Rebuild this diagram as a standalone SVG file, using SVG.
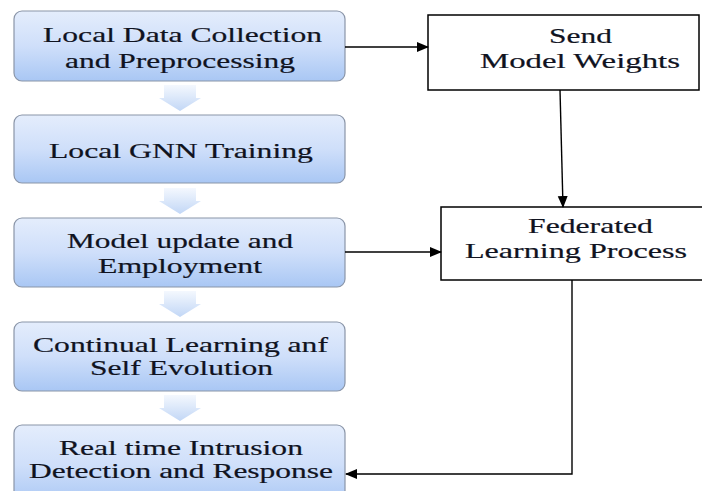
<svg xmlns="http://www.w3.org/2000/svg" width="702" height="491" viewBox="0 0 702 491">
<defs>
<linearGradient id="boxg" x1="0" y1="0" x2="0" y2="1">
<stop offset="0" stop-color="#e4edfc"/>
<stop offset="0.5" stop-color="#cfdffa"/>
<stop offset="1" stop-color="#a9c7f4"/>
</linearGradient>
<linearGradient id="chev" x1="0" y1="0" x2="0" y2="1">
<stop offset="0" stop-color="#f4f8fe"/>
<stop offset="1" stop-color="#c2d7f6"/>
</linearGradient>
<marker id="ah" markerWidth="12" markerHeight="12" refX="11" refY="6" orient="auto" markerUnits="userSpaceOnUse" viewBox="0 0 12 12">
<path d="M0,1 L12,6 L0,11 z" fill="#000"/>
</marker>
<path id="chevron" d="M-16,0 H16 V13 H21 L0,26 L-21,13 H-16 z"/>
</defs>
<style>
.box{fill:url(#boxg);stroke:#8a95a8;stroke-width:1.2}
.rbox{fill:#fff;stroke:#000;stroke-width:1.5}
.t{font-family:"Liberation Serif","Times New Roman",serif;font-size:27px;fill:#10131f;stroke:#10131f;stroke-width:0.25}
.c{stroke:#000;stroke-width:1.4;fill:none}
.chev{fill:url(#chev)}
</style>
<rect width="702" height="491" fill="#fff"/>
<g id="chevrons">
<use href="#chevron" class="chev" x="180" y="85"/>
<use href="#chevron" class="chev" x="180" y="188"/>
<use href="#chevron" class="chev" x="180" y="291"/>
<use href="#chevron" class="chev" x="180" y="395"/>
</g>
<g id="n1">
<rect class="box" x="14" y="11" width="331" height="70" rx="8"/>
<text class="t" transform="translate(43,42) scale(1.17,0.79)" textLength="238.5" lengthAdjust="spacingAndGlyphs">Local Data Collection</text>
<text class="t" transform="translate(65,68) scale(1.17,0.79)" textLength="196.6" lengthAdjust="spacingAndGlyphs">and Preprocessing</text>
</g>
<g id="n2">
<rect class="box" x="14" y="115" width="331" height="68" rx="8"/>
<text class="t" transform="translate(49,158) scale(1.17,0.79)" textLength="225.6" lengthAdjust="spacingAndGlyphs">Local GNN  Training</text>
</g>
<g id="n3">
<rect class="box" x="14" y="218" width="331" height="69" rx="8"/>
<text class="t" transform="translate(67,248) scale(1.17,0.79)" textLength="193.2" lengthAdjust="spacingAndGlyphs">Model update and</text>
<text class="t" transform="translate(98,273) scale(1.17,0.79)" textLength="140.2" lengthAdjust="spacingAndGlyphs">Employment</text>
</g>
<g id="n4">
<rect class="box" x="14" y="322" width="331" height="69" rx="8"/>
<text class="t" transform="translate(33,352) scale(1.17,0.79)" textLength="252.1" lengthAdjust="spacingAndGlyphs">Continual Learning anf</text>
<text class="t" transform="translate(90,375) scale(1.17,0.79)" textLength="156.4" lengthAdjust="spacingAndGlyphs">Self Evolution</text>
</g>
<g id="n5">
<rect class="box" x="14" y="425" width="331" height="80" rx="8"/>
<text class="t" transform="translate(59,455) scale(1.17,0.79)" textLength="208.5" lengthAdjust="spacingAndGlyphs">Real time Intrusion</text>
<text class="t" transform="translate(29,478) scale(1.17,0.79)" textLength="259.8" lengthAdjust="spacingAndGlyphs">Detection and Response</text>
</g>
<g id="send">
<rect class="rbox" x="428" y="15" width="271" height="75"/>
<text class="t" transform="translate(549,43) scale(1.17,0.79)" textLength="53.8" lengthAdjust="spacingAndGlyphs">Send</text>
<text class="t" transform="translate(480,68) scale(1.17,0.79)" textLength="170.9" lengthAdjust="spacingAndGlyphs">Model Weights</text>
</g>
<g id="fed">
<rect class="rbox" x="441" y="207" width="262" height="73"/>
<text class="t" transform="translate(528,233) scale(1.17,0.79)" textLength="106.8" lengthAdjust="spacingAndGlyphs">Federated</text>
<text class="t" transform="translate(465,258) scale(1.17,0.79)" textLength="189.7" lengthAdjust="spacingAndGlyphs">Learning Process</text>
</g>
<g id="connectors">
<line class="c" x1="345" y1="47" x2="428" y2="47" marker-end="url(#ah)"/>
<line class="c" x1="560" y1="90" x2="563" y2="207" marker-end="url(#ah)"/>
<line class="c" x1="345" y1="252" x2="441" y2="252" marker-end="url(#ah)"/>
<polyline class="c" points="572,280 572,474 346,474" marker-end="url(#ah)"/>
</g>
</svg>
